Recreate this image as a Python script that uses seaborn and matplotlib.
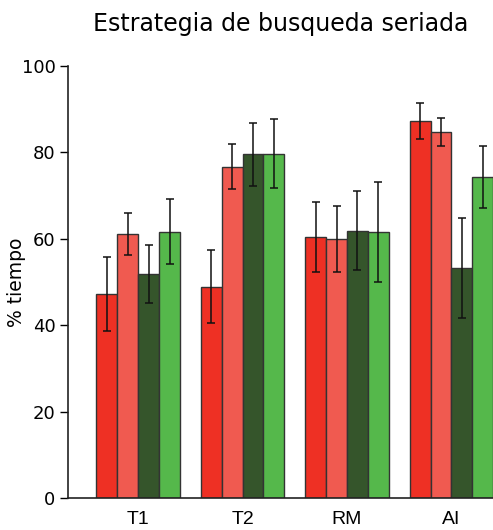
import matplotlib
matplotlib.use("Agg")
import matplotlib.pyplot as plt
import seaborn as sns
import pandas as pd

# Sessions on the x axis and the four groups drawn within each session
sessions = ["T1", "T2", "RM", "AI"]
groups = ["G1", "G2", "G3", "G4"]
colors = ["#EE3024", "#F05A50", "#35552B", "#55B84B"]

# Mean % of time per group, one list per group (order follows sessions)
mean_g1 = [47.2, 48.9, 60.3, 87.2]
mean_g2 = [61.1, 76.6, 59.9, 84.7]
mean_g3 = [51.8, 79.5, 61.9, 53.2]
mean_g4 = [61.6, 79.7, 61.6, 74.3]

# Error half-widths (SEM) per group
err_g1 = [8.6, 8.4, 8.1, 4.2]
err_g2 = [4.9, 5.2, 7.7, 3.2]
err_g3 = [6.7, 7.2, 9.1, 11.6]
err_g4 = [7.5, 8.0, 11.5, 7.1]

means = [mean_g1, mean_g2, mean_g3, mean_g4]
errs = [err_g1, err_g2, err_g3, err_g4]

rows = []
for g, m_list, e_list in zip(groups, means, errs):
    for s, m, e in zip(sessions, m_list, e_list):
        rows.append({"sesion": s, "grupo": g, "tiempo": m, "err": e})
df = pd.DataFrame(rows)

sns.set_style("ticks")
plt.rcParams["font.family"] = ["DejaVu Sans"]
plt.rcParams["text.color"] = "black"
plt.rcParams["axes.labelcolor"] = "black"
plt.rcParams["xtick.color"] = "black"
plt.rcParams["ytick.color"] = "black"

fig = plt.figure(figsize=(4.93, 5.30), dpi=100)
ax = fig.add_axes([0.138, 0.0598, 0.92, 0.8162])

sns.barplot(data=df, x="sesion", y="tiempo", hue="grupo", order=sessions,
            hue_order=groups, palette=colors, errorbar=None, width=0.8,
            edgecolor="#333333", linewidth=1.0, saturation=1, ax=ax)

# Error bars centred on each drawn bar
for container, g in zip(ax.containers, groups):
    sub = df[df["grupo"] == g].set_index("sesion").loc[sessions]
    xs = [p.get_x() + p.get_width() / 2 for p in container.patches]
    ys = [p.get_height() for p in container.patches]
    ax.errorbar(xs, ys, yerr=sub["err"].values, fmt="none", ecolor="#111111",
                elinewidth=1.1, capsize=3, capthick=1.1, zorder=5)

ax.set_ylim(0, 100)
ax.set_xlim(-0.672, 3.672)
ax.set_yticks([0, 20, 40, 60, 80, 100])
ax.set_xlabel("")
ax.set_ylabel("% tiempo", fontsize=13.5)
ax.yaxis.set_label_coords(-0.092, 0.5)
ax.tick_params(axis="y", labelsize=13, length=6, width=1, pad=3)
ax.tick_params(axis="x", length=0, pad=9)
for lab in ax.get_xticklabels():
    lab.set_fontfamily("Liberation Sans")
    lab.set_fontsize(14)
ax.legend_.remove()
sns.despine(ax=ax)
for sp in ["left", "bottom"]:
    ax.spines[sp].set_linewidth(1.2)
    ax.spines[sp].set_color("#222222")

fig.text(281 / 493, 1 - 24 / 530, "Estrategia de busqueda seriada",
         ha="center", va="center", fontsize=17)

fig.savefig("out.png", dpi=100)
